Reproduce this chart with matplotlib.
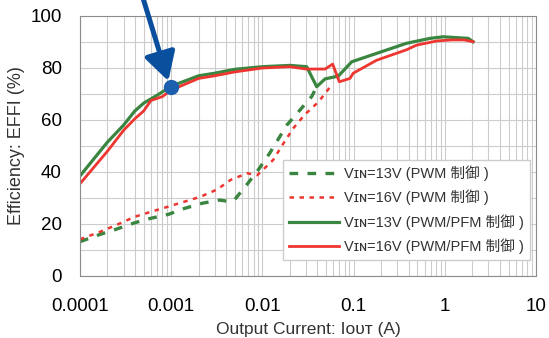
import numpy as np
import matplotlib
matplotlib.use("Agg")
from matplotlib import pyplot as plt
from matplotlib.ticker import FixedLocator, FixedFormatter, MultipleLocator

plt.rcParams['font.family'] = ['Liberation Sans', 'DejaVu Sans', 'Noto Sans CJK JP']

# 13V PWM/PFM (solid green)
x13_pfm = [0.0001, 0.0002, 0.0003, 0.0004, 0.0005, 0.0007, 0.001, 0.002, 0.003, 0.005,
           0.01, 0.02, 0.0306, 0.0394, 0.0486, 0.068, 0.0955, 0.38, 0.69, 0.96, 1.81, 2.04]
y13_pfm = [38.5, 51.5, 58, 63.5, 66.5, 69.5, 73, 77, 78, 79.5,
           80.5, 81, 80.5, 72.8, 75.8, 76.9, 82.4, 89.5, 91.4, 92, 91.4, 90.1]

# 16V PWM/PFM (solid red)
x16_pfm = [0.0001, 0.0002, 0.0003, 0.0004, 0.0005, 0.0006, 0.0008, 0.001, 0.002, 0.003,
           0.005, 0.01, 0.02, 0.03, 0.0486, 0.059, 0.0697, 0.0913, 0.099, 0.179, 0.38,
           0.49, 0.82, 1.18, 1.63, 2.04]
y16_pfm = [35.5, 48, 56, 60.5, 63.5, 67.5, 69, 71.5, 76, 77,
           78.5, 80, 80.5, 79.6, 79.6, 81.5, 74.7, 76, 78, 83, 87,
           88.8, 90.4, 90.8, 90.8, 90.1]

# 13V PWM (dashed green)
x13_pwm = [0.0001, 0.000166, 0.00025, 0.0004, 0.0006, 0.00093, 0.0014, 0.0022, 0.0034,
           0.0044, 0.005, 0.0067, 0.009, 0.012, 0.0185, 0.0249, 0.0347, 0.0394]
y13_pwm = [13.2, 16, 18, 20.5, 22.2, 23.7, 26, 28, 29.2,
           28.6, 29.5, 35, 40.8, 47.2, 58, 63.2, 69, 72.8]

# 16V PWM (dotted red)
x16_pwm = [0.0001, 0.000166, 0.00025, 0.0004, 0.0006, 0.00093, 0.0014, 0.0021, 0.0032,
           0.0045, 0.0068, 0.0088, 0.0131, 0.017, 0.0218, 0.029, 0.0413, 0.055]
y16_pwm = [14.1, 17, 19.6, 22.8, 24.7, 26.7, 28.6, 30.5, 33.3,
           37, 39.5, 38.8, 44.6, 51, 56.8, 62, 67, 72.6]

xticks = [0.0001, 0.001, 0.01, 0.1, 1, 10]
xtick_labels = ['0.0001', '0.001', '0.01', '0.1', '1', '10']
yticks = [0, 20, 40, 60, 80, 100]

labels = ['V\u026a\u0274=13V (PWM 制御 )', 'V\u026a\u0274=16V (PWM 制御 )',
          'V\u026a\u0274=13V (PWM/PFM 制御 )', 'V\u026a\u0274=16V (PWM/PFM 制御 )']

green = '#3a8540'
red = '#ee3631'
blue = '#0a4f9e'

fig = plt.figure(figsize=(5.49, 3.38), dpi=100)
ax = fig.add_axes([80/549, 1-276/338, 456/549, 260/338])

ax.plot(x13_pwm, y13_pwm, color=green, lw=2.4, dashes=(2.6, 2.8), label=labels[0])
ax.plot(x16_pwm, y16_pwm, color=red, lw=1.8, dashes=(1.8, 2.2), label=labels[1])
ax.plot(x13_pfm, y13_pfm, color=green, lw=2.3, label=labels[2])
ax.plot(x16_pfm, y16_pfm, color=red, lw=2.0, label=labels[3])

ax.plot([0.001], [72.5], 'o', color='#1c5fae', ms=10, zorder=6)
ax.annotate('', xy=(0.00093, 75), xytext=(0.00048, 108),
            arrowprops=dict(arrowstyle='-|>,head_length=1.7,head_width=0.95',
                            color=blue, lw=3.6, shrinkA=0, shrinkB=0),
            annotation_clip=False, zorder=7)

ax.set_xscale('log')
ax.set_xlim(0.0001, 10)
ax.set_ylim(0, 100)
ax.xaxis.set_major_locator(FixedLocator(xticks))
ax.xaxis.set_major_formatter(FixedFormatter(xtick_labels))
ax.set_yticks(yticks)
ax.yaxis.set_minor_locator(MultipleLocator(10))
ax.grid(True, which='both', color='#cccccc', lw=0.8)
ax.set_axisbelow(True)
ax.tick_params(which='both', length=0, labelsize=13.5)
ax.tick_params(axis='x', pad=16)
ax.tick_params(axis='y', pad=13)
for s in ax.spines.values():
    s.set_color('#8c8c8c')

ax.set_xlabel('Output Current: I\u1d0f\u1d1c\u1d1b (A)', fontsize=12.5, labelpad=5, color='#333333')
ax.set_ylabel('Efficiency: EFFI (%)', fontsize=13, labelpad=4, color='#333333')

leg = ax.legend(loc='lower right', bbox_to_anchor=(0.987, 0.062), borderaxespad=0,
                fontsize=10.5, handlelength=3.4, handletextpad=0.4, labelspacing=0.6,
                borderpad=0.4, fancybox=False, framealpha=1, edgecolor='#cccccc')
for t in leg.get_texts():
    t.set_color('#333333')

fig.savefig('out.png', dpi=100)
